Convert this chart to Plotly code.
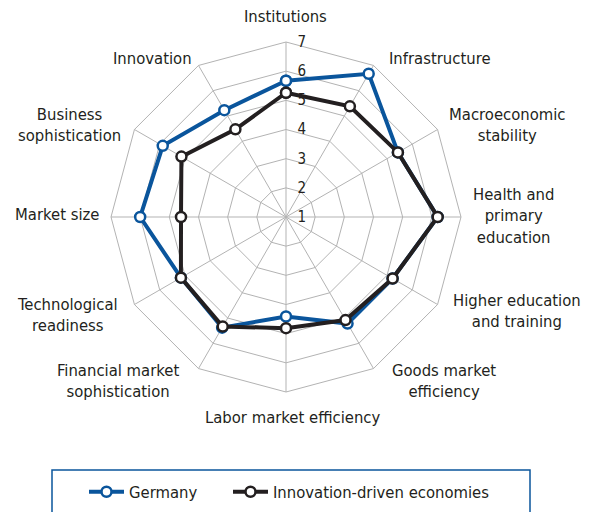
import plotly.graph_objects as go

categories = ["Institutions", "Infrastructure", "Macroeconomic<br>stability",
              "Health and<br>primary<br>education", "Higher education<br>and training",
              "Goods market<br>efficiency", "Labor market efficiency",
              "Financial market<br>sophistication", "Technological<br>readiness",
              "Market size", "Business<br>sophistication", "Innovation"]
germany = [5.67, 6.67, 5.43, 6.2, 5.22, 5.22, 4.41, 5.38, 5.16, 6.0, 5.88, 5.23]
innovation_driven = [5.26, 5.38, 5.43, 6.2, 5.22, 5.08, 4.81, 5.34, 5.16, 4.6, 5.14, 4.47]
radial_ticks = [1, 2, 3, 4, 5, 6, 7]

# label placement (pixel centres in the 590x512 canvas)
label_pos = [(285, 16), (440, 58), (507, 125), (513, 216), (517, 311), (444, 381),
             (292, 417), (118, 381), (67, 315), (57, 214), (69, 125), (152, 58)]

BLUE = "#0a559c"
BLACK = "#231f20"
FONT = "Liberation Sans Narrow, DejaVu Sans Condensed, Arial Narrow, sans-serif"

fig = go.Figure()
for name, vals, col, lg in [("Germany", germany, BLUE, "legend"),
                            ("Innovation-driven economies", innovation_driven, BLACK, "legend2")]:
    fig.add_trace(go.Scatterpolar(
        r=vals + vals[:1], theta=categories + categories[:1], name=name,
        mode="lines+markers", legend=lg, showlegend=True,
        line=dict(color=col, width=4),
        marker=dict(size=10, color="white", line=dict(color=col, width=2.5)),
    ))

W, H = 590, 512
cx, cy, R = 286, 217, 175
annotations = [dict(text=t, x=px / W, y=1 - py / H, xref="paper", yref="paper",
                    xanchor="center", yanchor="middle", align="center", showarrow=False,
                    font=dict(size=16.5, family=FONT, color="#231f20"))
               for t, (px, py) in zip(categories, label_pos)]

legend_style = dict(orientation="h", yanchor="middle", y=1 - 492 / H,
                    font=dict(size=16.5, family=FONT, color="#231f20"),
                    bgcolor="rgba(0,0,0,0)", itemwidth=35)
fig.update_layout(
    width=W, height=H, margin=dict(l=0, r=0, t=0, b=0),
    paper_bgcolor="white", plot_bgcolor="white", showlegend=True,
    font=dict(family=FONT, size=16, color="#231f20"),
    polar=dict(
        domain=dict(x=[(cx - R) / W, (cx + R) / W], y=[1 - (cy + R) / H, 1 - (cy - R) / H]),
        bgcolor="white",
        gridshape="linear",
        radialaxis=dict(range=[1, 7], tickvals=radial_ticks, angle=90, tickangle=90,
                        showline=False, gridcolor="#b3b3b3", gridwidth=1,
                        ticks="outside", ticklen=8, tickcolor="rgba(0,0,0,0)",
                        tickfont=dict(size=15, family=FONT, color="#231f20"),
                        side="clockwise"),
        angularaxis=dict(direction="clockwise", rotation=90, showticklabels=False,
                         gridcolor="#b3b3b3", linecolor="#b3b3b3", linewidth=1, ticks=""),
    ),
    legend=dict(x=84 / W, xanchor="left", **legend_style),
    legend2=dict(x=228 / W, xanchor="left", **legend_style),
    annotations=annotations,
    shapes=[dict(type="rect", xref="paper", yref="paper",
                 x0=52 / W, x1=530 / W, y0=-0.1, y1=1 - 470 / H,
                 line=dict(color=BLUE, width=1.5), fillcolor="rgba(0,0,0,0)")],
)

fig.write_html("out.html", config={"displayModeBar": False},
               post_script="document.body.style.margin='0';")
